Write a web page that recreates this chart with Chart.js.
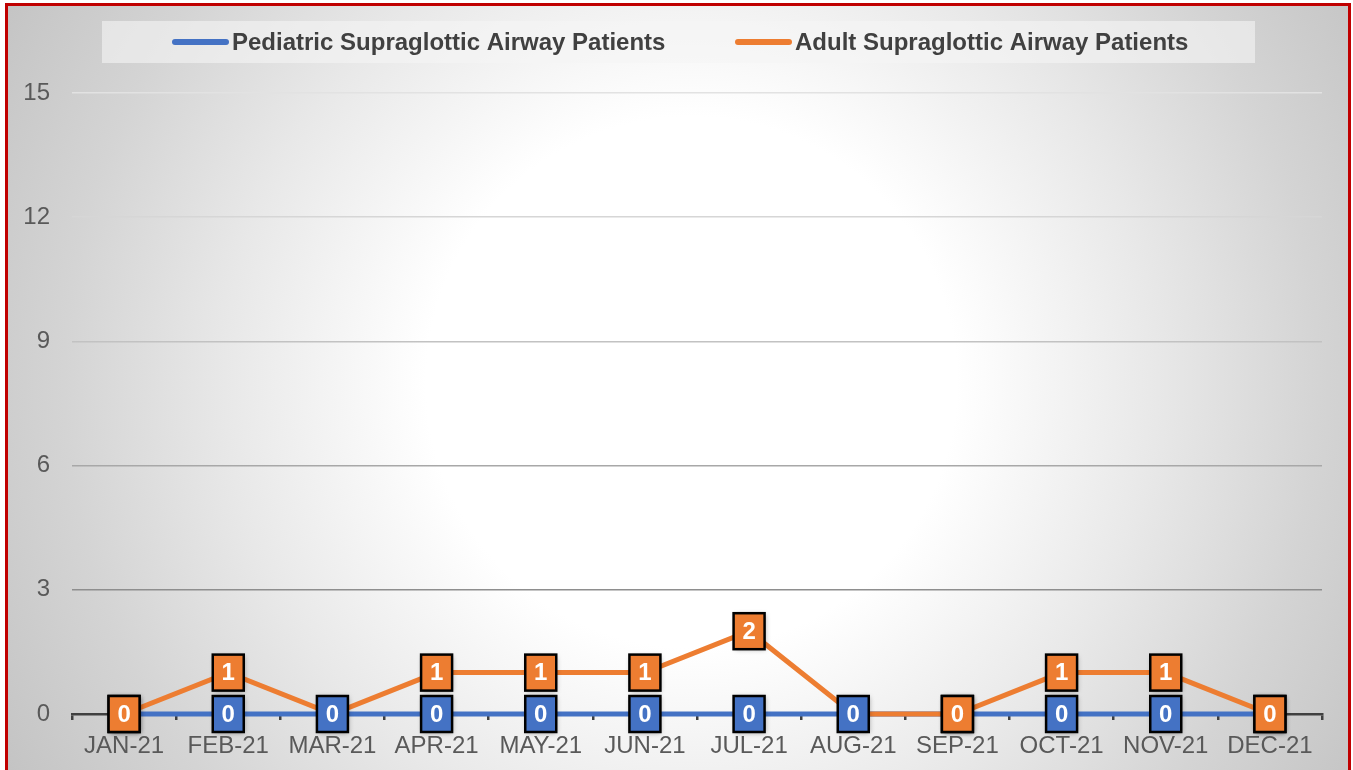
<!DOCTYPE html>
<html>
<head>
<meta charset="utf-8">
<script src="https://cdn.jsdelivr.net/npm/chart.js@4.4.1/dist/chart.umd.min.js"></script>
<style>
  body { margin: 0; background: #ffffff; }
  #wrap {
    position: relative;
    width: 1353px;
    height: 770px;
    overflow: hidden;
  }
  #bg {
    position: absolute;
    left: 8px; top: 6px; width: 1340px; height: 800px;
    background: radial-gradient(circle farthest-corner at 51% 47%, #ffffff 0%, #ffffff 33%, #e8e8e8 58%, #d4d4d4 78%, #c2c2c2 100%);
  }
  #frame {
    position: absolute;
    left: 5px; top: 3px; width: 1340px; height: 800px;
    border: 3px solid #c00000;
    pointer-events: none;
  }
  canvas { position: absolute; left: 0; top: 0; }
</style>
</head>
<body>
<div id="wrap">
  <div id="bg"></div>
  <canvas id="myLineChart" width="1353" height="770"></canvas>
  <div id="frame"></div>
</div>
<script>
// chart data
const months = ['JAN-21', 'FEB-21', 'MAR-21', 'APR-21', 'MAY-21', 'JUN-21',
                'JUL-21', 'AUG-21', 'SEP-21', 'OCT-21', 'NOV-21', 'DEC-21'];
const pediatricPatients = [0, 0, 0, 0, 0, 0, 0, 0, 0, 0, 0, 0];
const adultPatients = [0, 1, 0, 1, 1, 1, 2, 0, 0, 1, 1, 0];
// where the adult label sits on top of the pediatric one
const adultLabelShown = [true, true, false, true, true, true, true, false, true, true, true, true];
const yTicks = [0, 3, 6, 9, 12, 15];

const FONT = '"Liberation Sans", Arial, sans-serif';
const BLUE = '#4472c4';
const ORANGE = '#ed7d31';

// gridlines fade out towards the top
const gridColors = ['rgba(0,0,0,0)', '#8e8e8e', '#a8a8a8', '#c2c2c2', '#d6d6d6', '#e2e2e2'];

// legend drawn by hand (box + line markers)
const legendBox = {
  id: 'legendBox',
  afterDraw(chart) {
    const ctx = chart.ctx;
    ctx.save();
    ctx.fillStyle = 'rgba(245,245,245,0.6)';
    ctx.fillRect(102, 21, 1153, 42);

    const items = [
      { x: 172, color: BLUE, text: chart.data.datasets[0].label },
      { x: 735, color: ORANGE, text: chart.data.datasets[1].label }
    ];
    items.forEach(it => {
      ctx.strokeStyle = it.color;
      ctx.lineWidth = 6;
      ctx.lineCap = 'round';
      ctx.beginPath();
      ctx.moveTo(it.x + 3, 42);
      ctx.lineTo(it.x + 54, 42);
      ctx.stroke();
      ctx.fillStyle = '#404040';
      ctx.font = 'bold 24px ' + FONT;
      ctx.textBaseline = 'middle';
      ctx.textAlign = 'left';
      ctx.fillText(it.text, it.x + 60, 43);
    });
    ctx.restore();
  }
};

// value labels in small boxes
function drawValueBox(ctx, x, y, fill, value) {
  const w = 31, h = 36;
  ctx.save();
  ctx.shadowColor = 'rgba(0,0,0,0.35)';
  ctx.shadowBlur = 5;
  ctx.shadowOffsetX = 1;
  ctx.shadowOffsetY = 1;
  ctx.fillStyle = fill;
  ctx.fillRect(x - w / 2, y - h / 2, w, h);
  ctx.restore();
  ctx.save();
  ctx.strokeStyle = '#000000';
  ctx.lineWidth = 2.5;
  ctx.strokeRect(x - w / 2, y - h / 2, w, h);
  ctx.fillStyle = '#ffffff';
  ctx.font = 'bold 24px ' + FONT;
  ctx.textAlign = 'center';
  ctx.textBaseline = 'middle';
  ctx.fillText(String(value), x, y + 1);
  ctx.restore();
}

const valueLabels = {
  id: 'valueLabels',
  afterDatasetsDraw(chart) {
    const ctx = chart.ctx;
    const pedMeta = chart.getDatasetMeta(0);
    const adMeta = chart.getDatasetMeta(1);
    pedMeta.data.forEach((pt, i) => {
      drawValueBox(ctx, pt.x, pt.y, BLUE, pediatricPatients[i]);
    });
    adMeta.data.forEach((pt, i) => {
      if (adultLabelShown[i]) {
        drawValueBox(ctx, pt.x, pt.y, ORANGE, adultPatients[i]);
      }
    });
  }
};

const data = {
  labels: months,
  datasets: [{
    label: 'Pediatric Supraglottic Airway Patients',
    data: pediatricPatients,
    borderColor: BLUE,
    backgroundColor: BLUE,
    borderWidth: 5,
    pointRadius: 0,
    tension: 0,
    clip: false,
    order: 2
  }, {
    label: 'Adult Supraglottic Airway Patients',
    data: adultPatients,
    borderColor: ORANGE,
    backgroundColor: ORANGE,
    borderWidth: 5,
    pointRadius: 0,
    tension: 0,
    clip: false,
    order: 1
  }]
};

const config = {
  type: 'line',
  data: data,
  options: {
    responsive: false,
    animation: false,
    layout: { padding: { left: 0, right: 31, top: 93, bottom: 0 } },
    plugins: {
      legend: { display: false },
      tooltip: { enabled: false }
    },
    scales: {
      x: {
        offset: true,
        afterFit(axis) { axis.height = 56; },
        border: { display: true, color: '#404040', width: 2.5 },
        grid: {
          offset: true,
          drawOnChartArea: false,
          drawTicks: true,
          tickLength: 6,
          color: '#404040',
          lineWidth: 2.5
        },
        ticks: {
          color: '#595959',
          font: { family: FONT, size: 24 },
          padding: 12,
          maxRotation: 0,
          autoSkip: false
        }
      },
      y: {
        min: 0,
        max: 15,
        afterBuildTicks(axis) {
          axis.ticks = yTicks.map(v => ({ value: v }));
        },
        afterFit(axis) { axis.width = 72; },
        border: { display: false },
        grid: {
          drawTicks: false,
          lineWidth: 1.5,
          color: ctx => gridColors[yTicks.indexOf(ctx.tick.value)] || '#cccccc'
        },
        ticks: {
          color: '#595959',
          font: { family: FONT, size: 24 },
          padding: 22
        }
      }
    }
  },
  plugins: [valueLabels, legendBox]
};

const myChart = new Chart(document.getElementById('myLineChart'), config);
</script>
</body>
</html>
